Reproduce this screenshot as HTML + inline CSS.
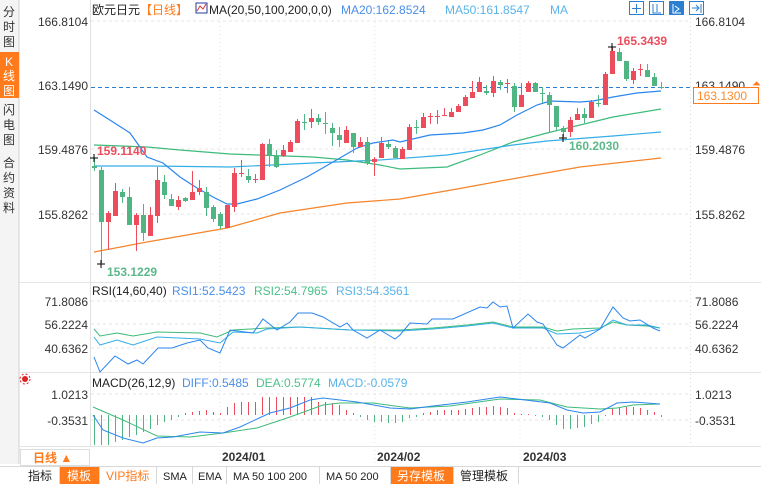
<!DOCTYPE html>
<html><head><meta charset="utf-8">
<style>
html,body{margin:0;padding:0;width:761px;height:484px;overflow:hidden;background:#fff;font-family:"Liberation Sans","Noto Sans CJK SC",sans-serif;}
svg{position:absolute;left:0;top:0}
text{font-family:"Liberation Sans","Noto Sans CJK SC",sans-serif;}
</style></head><body>
<svg id="s" width="761" height="484" xmlns="http://www.w3.org/2000/svg">
<!-- sidebar -->
<rect x="0" y="0" width="19" height="464" fill="#f4f4f4"/>
<line x1="19" y1="0" x2="19" y2="464" stroke="#d0d0d0"/>
<rect x="0" y="52" width="19" height="46" fill="#ff7a1a"/>
<g font-size="12" fill="#333" text-anchor="middle">
<text x="9" y="16">分</text><text x="9" y="31">时</text><text x="9" y="46">图</text>
<text x="9" y="66" fill="#fff">K</text><text x="9" y="80" fill="#fff">线</text><text x="9" y="95" fill="#fff">图</text>
<text x="9" y="114">闪</text><text x="9" y="129">电</text><text x="9" y="144">图</text>
<text x="9" y="167">合</text><text x="9" y="182">约</text><text x="9" y="197">资</text><text x="9" y="212">料</text>
</g>
<!-- panel borders -->
<line x1="90.5" y1="0" x2="90.5" y2="446" stroke="#e0e0e0"/>
<line x1="690.5" y1="14" x2="690.5" y2="446" stroke="#d8d8d8" stroke-dasharray="1,3"/>
<line x1="19" y1="282.5" x2="761" y2="282.5" stroke="#e4e4e4"/>
<line x1="19" y1="372.5" x2="761" y2="372.5" stroke="#e4e4e4"/>
<line x1="19" y1="446.5" x2="761" y2="446.5" stroke="#e4e4e4"/>
<!-- grid -->
<g stroke="#e6e6e6" stroke-dasharray="3,3">
<line x1="91" y1="21" x2="690" y2="21"/><line x1="91" y1="149" x2="690" y2="149"/><line x1="91" y1="214" x2="690" y2="214"/>
<line x1="91" y1="301" x2="690" y2="301"/><line x1="91" y1="324" x2="690" y2="324"/><line x1="91" y1="348" x2="690" y2="348"/>
<line x1="91" y1="394" x2="690" y2="394"/><line x1="91" y1="420" x2="690" y2="420"/>
</g>
<g stroke="#e6e6e6" stroke-dasharray="1,3">
<line x1="220" y1="14" x2="220" y2="465"/><line x1="375" y1="14" x2="375" y2="465"/><line x1="520" y1="14" x2="520" y2="465"/>
</g>
<!-- header -->
<text x="92" y="14" font-size="12" fill="#222">欧元日元</text>
<text x="140" y="14" font-size="12" fill="#ff7a1a">【日线】</text>
<rect x="196" y="3" width="11" height="10" fill="#fff" stroke="#2a3a9a"/>
<polyline points="197,11 200,6 203,9 206,4" fill="none" stroke="#e03030"/>
<text x="209" y="14" font-size="12" fill="#222">MA(20,50,100,200,0,0)</text>
<text x="341" y="14" font-size="12" fill="#4a8fe8">MA20:162.8524</text>
<text x="445" y="14" font-size="12" fill="#5ab4e8">MA50:161.8547</text>
<text x="550" y="14" font-size="12" fill="#5ab4e8">MA</text>
<g fill="none" stroke="#2a7fd0">
<rect x="629.5" y="1.5" width="14" height="13"/><rect x="649.5" y="1.5" width="14" height="13"/>
<rect x="669.5" y="1.5" width="14" height="13" fill="#2a7fd0"/><rect x="689.5" y="1.5" width="14" height="13"/>
<path d="M636.5 4v9M632 8.5h9"/><path d="M653 4v9h8M657 4v8"/><path d="M673 4v9h8M675 6l4 3-4 3" stroke="#fff"/><path d="M692 8h7M696 5l3 3-3 3M701 4v9"/>
</g>
<!-- axis labels -->
<g font-size="12" fill="#333" text-anchor="end">
<text x="88" y="26">166.8104</text><text x="88" y="90">163.1490</text><text x="88" y="154">159.4876</text><text x="88" y="219">155.8262</text>
<text x="88" y="306">71.8086</text><text x="88" y="329">56.2224</text><text x="88" y="353">40.6362</text>
<text x="88" y="399">1.0213</text><text x="88" y="425">-0.3531</text>
</g>
<g font-size="12" fill="#333">
<text x="695" y="26">166.8104</text><text x="695" y="90">163.1490</text><text x="695" y="154">159.4876</text><text x="695" y="219">155.8262</text>
<text x="695" y="306">71.8086</text><text x="695" y="329">56.2224</text><text x="695" y="353">40.6362</text>
<text x="695" y="399">1.0213</text><text x="695" y="425">-0.3531</text>
</g>
<text x="752" y="87" font-size="11" fill="#ff7a1a">⏶</text>
<rect x="693.5" y="87.5" width="65" height="16" fill="#fff" stroke="#ff7a1a"/>
<text x="697" y="100" font-size="12" fill="#ff8a2a">163.1300</text>
<line x1="91" y1="87.5" x2="690" y2="87.5" stroke="#2a7fd0" stroke-dasharray="4,3"/>
<!-- MA lines -->
<polyline fill="none" stroke="#f5842a" stroke-width="1.2" points="94,252 147,242 227,228 280,213 347,203 400,199 457,189 523,177 580,167 661,158"/>
<polyline fill="none" stroke="#3dbb7a" stroke-width="1.2" points="94,145 147,147 180,150 230,154 313,157 347,160 380,165 400,169 447,167 480,155 513,142 547,133 580,125 613,117 661,109"/>
<polyline fill="none" stroke="#34aee6" stroke-width="1.2" points="94,166 150,166 230,167 313,163 380,160 447,155 513,145 547,141 613,136 661,132"/>
<polyline fill="none" stroke="#2b86ee" stroke-width="1.2" points="94,110 113,122 130,133 147,157 163,163 180,177 197,188 213,197 227,204 237,204 257,199 280,190 307,177 333,162 357,148 373,143 393,140 400,142 430,135 463,133 483,130 500,125 517,115 537,105 550,101 580,102 593,101 613,97 637,93 661,91"/>
<g id="candles"></g>
<!-- marks -->
<g stroke="#000"><path d="M90 158h8M94 154v8M97 264h8M101 260v8M608 47h8M612 43v8M559 138h8M563 134v8"/></g>
<text x="97" y="155" font-size="12" font-weight="bold" fill="#ec4c5c">159.1140</text>
<text x="107" y="276" font-size="12" font-weight="bold" fill="#5cb88a">153.1229</text>
<text x="617" y="45" font-size="12" font-weight="bold" fill="#ec4c5c">165.3439</text>
<text x="569" y="150" font-size="12" font-weight="bold" fill="#5cb88a">160.2030</text>
<!-- RSI -->
<text x="92" y="295" font-size="12" fill="#222">RSI(14,60,40)</text>
<text x="172" y="295" font-size="12" fill="#4a8fe8">RSI1:52.5423</text>
<text x="254" y="295" font-size="12" fill="#4cc08a">RSI2:54.7965</text>
<text x="336" y="295" font-size="12" fill="#5ab4e8">RSI3:54.3561</text>
<polyline fill="none" stroke="#3dbb7a" points="94,329 100,336 117,333 133,336 157,332 200,333 217,337 233,330 267,328 300,327 350,330 400,330 433,328 467,325 493,322 513,327 543,327 557,331 573,329 600,328 613,322 627,325 647,326 660,328"/>
<polyline fill="none" stroke="#34aee6" points="94,337 100,345 117,340 133,345 157,337 200,339 220,343 233,332 257,333 267,329 300,327 350,330 400,331 433,329 467,326 493,323 513,328 543,328 557,334 580,333 600,329 613,320 627,325 647,325 660,328"/>
<polyline fill="none" stroke="#2b86ee" points="94,357 100,372 115,356 128,364 137,360 143,364 158,348 172,348 187,343 200,340 208,348 220,353 230,330 253,333 263,319 277,330 290,322 298,313 312,313 323,317 340,327 347,323 353,330 367,338 380,330 395,339 400,335 410,323 427,324 432,319 453,319 480,307 487,308 493,302 500,307 507,306 513,328 528,314 537,322 543,324 557,345 563,348 580,335 585,338 600,329 613,307 623,318 630,321 640,320 653,328 660,331"/>
<!-- MACD -->
<g transform="translate(25,379)"><circle r="3" fill="#e02020"/><circle r="5" fill="none" stroke="#e02020" stroke-dasharray="2,2"/></g>
<text x="92" y="387" font-size="12" fill="#222">MACD(26,12,9)</text>
<text x="182" y="387" font-size="12" fill="#4a8fe8">DIFF:0.5485</text>
<text x="256" y="387" font-size="12" fill="#4cc08a">DEA:0.5774</text>
<text x="328" y="387" font-size="12" fill="#5ab4e8">MACD:-0.0579</text>
<g id="hist"></g>
<polyline fill="none" stroke="#3dbb7a" points="93,407 123,420 157,436 190,437 223,433 257,428 290,417 323,405 340,403 373,403 410,408 450,406 500,399 540,400 567,407 600,409 617,408 633,405 660,404"/>
<polyline fill="none" stroke="#2b86ee" points="93,415 103,430 123,438 143,443 157,438 173,437 200,432 223,433 240,427 270,413 290,408 310,400 323,398 357,402 390,408 410,409 433,406 467,402 500,397 517,399 550,403 567,410 583,413 600,412 617,403 633,402 660,404"/>
<!-- date bar -->
<rect x="20.5" y="449.5" width="69" height="16" fill="#fff" stroke="#ddd"/>
<text x="33" y="462" font-size="12" font-weight="bold" fill="#ff7a1a">日线 ▲</text>
<g font-size="12" font-weight="bold" fill="#333">
<text x="222" y="461">2024/01</text><text x="377" y="461">2024/02</text><text x="523" y="461">2024/03</text>
</g>
<!-- toolbar -->
<rect x="0" y="466" width="761" height="18" fill="#fff"/>
<line x1="0" y1="466.5" x2="761" y2="466.5" stroke="#d8d8d8"/>
<rect x="60" y="467" width="39" height="17" fill="#ff7a1a"/>
<rect x="390" y="467" width="63" height="17" fill="#ff7a1a"/>
<g stroke="#d8d8d8"><path d="M59.5 467v17M99.5 467v17M156.5 467v17M192.5 467v17M226.5 467v17M319.5 467v17M390.5 467v17M453.5 467v17M518.5 467v17"/></g>
<g font-size="12" fill="#222">
<text x="28" y="480">指标</text><text x="67" y="480" fill="#fff">模板</text>
<text x="106" y="480" fill="#ff7a1a" font-family="Liberation Mono, Noto Sans CJK SC, monospace">VIP指标</text>
<text x="163" y="480" font-family="Liberation Mono, monospace" font-size="11">SMA</text>
<text x="198" y="480" font-family="Liberation Mono, monospace" font-size="11">EMA</text>
<text x="233" y="480" font-family="Liberation Mono, monospace" font-size="11">MA 50 100 200</text>
<text x="326" y="480" font-family="Liberation Mono, monospace" font-size="11">MA 50 200</text>
<text x="397" y="480" fill="#fff">另存模板</text><text x="460" y="480">管理模板</text>
</g>
</svg>
<script>
var C=[["g",166,168,158,171],["g",170,222,167,263],["r",213,222,211,250],["r",191,216,183,216],["g",192,197,189,203],["g",197,225,187,225],["r",215,225,213,251],["g",215,233,204,241],["r",215,236,207,236],["r",180,216,167,223],["g",182,195,175,199],["g",199,206,194,206],["r",200,207,196,210],["g",198,201,197,202],["r",192,200,171,200],["r",188,192,180,195],["g",192,208,187,216],["g",207,219,205,222],["g",214,226,212,229],["r",205,228,205,228],["r",173,207,168,212],["r",173,174,160,177],["g",176,180,169,183],["r",179,180,174,183],["r",144,180,143,180],["g",144,156,139,167],["g",156,167,150,168],["r",150,156,145,157],["r",142,152,140,152],["r",121,143,119,143],["g",122,123,114,130],["r",118,122,109,128],["g",118,122,114,125],["g",123,124,112,134],["g",128,133,123,146],["g",135,140,127,147],["r",130,143,126,143],["g",133,147,133,153],["r",142,147,137,147],["g",142,163,137,165],["r",159,162,157,176],["r",143,158,137,158],["g",144,147,141,149],["g",148,158,146,158],["r",149,159,147,159],["r",127,150,124,150],["g",127,128,120,134],["r",117,128,113,128],["r",116,117,113,124],["r",116,117,110,124],["r",115,116,108,116],["r",112,117,108,117],["r",106,112,104,112],["r",97,106,95,106],["r",92,98,81,98],["r",82,92,77,92],["g",91,93,85,95],["r",81,93,76,97],["g",82,85,80,90],["r",83,84,79,93],["g",86,107,83,112],["r",95,107,83,107],["r",83,92,81,92],["g",83,92,82,92],["g",93,94,87,103],["g",95,105,92,132],["g",106,127,106,130],["g",128,132,126,137],["r",120,132,117,137],["r",114,120,108,120],["g",114,118,108,123],["r",102,118,100,118],["g",103,104,95,107],["r",74,105,72,105],["r",51,74,47,74],["g",52,61,48,61],["g",61,79,61,81],["r",71,80,68,84],["r",69,70,64,76],["g",70,77,64,77],["g",77,86,73,86],["g",87,88,82,89]];
var H=[-30,-32,-30,-27,-25,-22,-20,-17,-14,-10,-7,-5,-2,2,3,4,5,3,2,8,12,13,13,13,18,18,18,18,18,18,18,18,13,13,12,10,5,2,-2,-5,-7,-7,-8,-8,-7,-3,-2,2,3,5,5,5,5,6,7,8,8,9,8,7,2,1,1,-1,-2,-5,-10,-14,-14,-13,-12,-9,-7,-1,7,8,8,8,7,5,3,-2];
var ns="http://www.w3.org/2000/svg",g=document.getElementById("candles"),h=document.getElementById("hist");
function el(t,a,p){var e=document.createElementNS(ns,t);for(var k in a)e.setAttribute(k,a[k]);p.appendChild(e);}
C.forEach(function(c,i){var x=94+7*i,col=c[0]=="r"?"#ec4c5c":"#4fb683";
el("line",{x1:x+0.5,x2:x+0.5,y1:c[3],y2:c[4],stroke:col},g);
var hh=Math.max(1,c[2]-c[1]);el("rect",{x:x-2,y:c[1],width:5,height:hh,fill:col},g);});
H.forEach(function(v,i){var x=94.5+7*i,col=v>0?"#ec4c5c":"#4fb683";el("line",{x1:x,x2:x,y1:415,y2:Math.min(445,415-v),stroke:col},h);});
</script>
</body></html>
